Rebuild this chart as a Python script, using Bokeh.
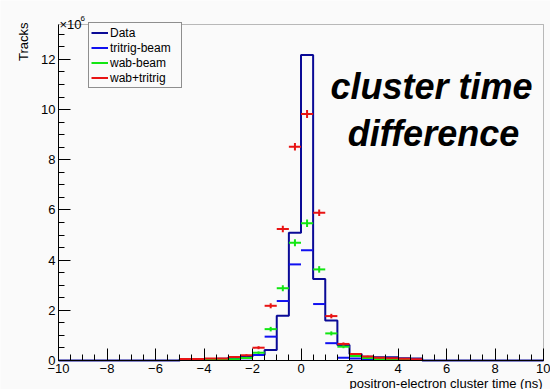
import numpy as np
from bokeh.plotting import figure
from bokeh.models import (Range1d, SingleIntervalTicker, Label, Legend, LegendItem,
                          BoxAnnotation)
from bokeh.embed import file_html
from bokeh.resources import INLINE

# Histogram binning: 0.5 ns bins, filled region from -5 to +5 ns
bin_width = 0.5
bin_lo = np.arange(-5.0, 5.0, bin_width)

# Tracks per bin (in units of 1e6)
data_counts = [0.05, 0.06, 0.06, 0.07, 0.12, 0.15, 0.22, 0.42, 1.78, 5.09,
               12.17, 3.25, 1.59, 0.62, 0.26, 0.15, 0.13, 0.13, 0.09, 0.08]
tritrig_beam = [0.04, 0.04, 0.05, 0.05, 0.07, 0.09, 0.22, 0.95, 2.37, 3.83,
                4.39, 2.25, 0.69, 0.11, 0.08, 0.06, 0.05, 0.05, 0.04, 0.03]
wab_beam = [0.02, 0.02, 0.03, 0.03, 0.05, 0.10, 0.31, 1.25, 2.88, 4.69,
            5.47, 3.63, 1.08, 0.55, 0.18, 0.10, 0.06, 0.04, 0.03, 0.02]
wab_beam_err = [0.01, 0.01, 0.01, 0.01, 0.02, 0.03, 0.05, 0.09, 0.12, 0.14,
                0.15, 0.13, 0.08, 0.06, 0.04, 0.03, 0.02, 0.02, 0.01, 0.01]
wab_tritrig = [0.06, 0.06, 0.08, 0.08, 0.14, 0.21, 0.51, 2.18, 5.24, 8.52,
               9.82, 5.89, 1.77, 0.66, 0.26, 0.16, 0.11, 0.09, 0.07, 0.05]
wab_tritrig_err = [0.02, 0.02, 0.02, 0.02, 0.03, 0.04, 0.06, 0.10, 0.13, 0.15,
                   0.16, 0.13, 0.09, 0.06, 0.04, 0.03, 0.03, 0.02, 0.02, 0.02]

x_ticks = [-10, -8, -6, -4, -2, 0, 2, 4, 6, 8, 10]
x_tick_labels = ["\u221210", "\u22128", "\u22126", "\u22124", "\u22122", "0", "2", "4", "6", "8", "10"]

X_MIN, X_MAX = -10.0, 10.0
Y_MAX = 13.39

W, H = 550, 389
# pad (ROOT-style) around the histogram frame, in pixels
PAD_L, PAD_R, PAD_T, PAD_B = 58, 7, 24, 29
BG = "#fafafa"
FONT = "Liberation Sans"

NAVY = "#0a0a96"
BLUE = "#1010f0"
GREEN = "#12e612"
RED = "#e81414"

frame_w = W - PAD_L - PAD_R
frame_h = H - PAD_T - PAD_B

def dx(px):
    return X_MIN + (px - PAD_L) * (X_MAX - X_MIN) / frame_w

def dy(py):
    return (H - PAD_B - py) * Y_MAX / frame_h

# The drawing area spans the whole canvas; the axes sit at the histogram edges
p = figure(width=W, height=H, output_backend="svg", toolbar_location=None,
           x_range=Range1d(dx(0), dx(W)), y_range=Range1d(dy(H), dy(0)),
           min_border=0, min_border_left=0, min_border_right=0,
           min_border_top=0, min_border_bottom=0)
p.background_fill_color = BG
p.border_fill_color = BG
p.outline_line_color = None
p.grid.visible = False

p.xaxis[0].fixed_location = 0
p.xaxis[0].bounds = (X_MIN, X_MAX)
p.yaxis[0].fixed_location = X_MIN
p.yaxis[0].bounds = (0, Y_MAX)

for ax in (p.xaxis[0], p.yaxis[0]):
    ax.ticker = SingleIntervalTicker(interval=2, num_minor_ticks=4)
    ax.axis_line_color = "black"
    ax.major_tick_line_color = "black"
    ax.minor_tick_line_color = "black"
    ax.major_tick_in = 12
    ax.major_tick_out = 0
    ax.minor_tick_in = 6
    ax.minor_tick_out = 0
    ax.major_label_text_font = FONT
    ax.major_label_text_font_size = "13px"
    ax.major_label_text_color = "black"
    ax.major_label_standoff = 3
p.xaxis[0].major_label_overrides = {t: s for t, s in zip(x_ticks, x_tick_labels)}

# Frame box around the histogram area
p.add_layout(BoxAnnotation(left=X_MIN, right=X_MAX, bottom=0, top=Y_MAX,
                           fill_alpha=0, line_color="#222222", line_width=1,
                           level="underlay"))

# Data histogram drawn as a closed step outline over the full axis range
lo_all = np.arange(X_MIN, X_MAX, bin_width)
counts_all = np.zeros(len(lo_all))
start = int(round((bin_lo[0] - X_MIN) / bin_width))
counts_all[start:start + len(data_counts)] = data_counts
hx, hy = [X_MIN], [0.0]
for lo, c in zip(lo_all, counts_all):
    hx += [lo, lo + bin_width]
    hy += [c, c]
hx.append(X_MAX)
hy.append(0.0)
r_data = p.line(hx, hy, line_color=NAVY, line_width=2)

bin_hi = bin_lo + bin_width
bin_mid = bin_lo + bin_width / 2

r_tri = p.segment(x0=bin_lo, y0=tritrig_beam, x1=bin_hi, y1=tritrig_beam,
                  line_color=BLUE, line_width=2)

def error_series(vals, errs, color):
    vals = np.array(vals)
    errs = np.array(errs)
    r = p.segment(x0=bin_lo, y0=vals, x1=bin_hi, y1=vals, line_color=color, line_width=2)
    p.segment(x0=bin_mid, y0=vals - errs, x1=bin_mid, y1=vals + errs,
              line_color=color, line_width=2)
    return r

r_wab = error_series(wab_beam, wab_beam_err, GREEN)
r_sum = error_series(wab_tritrig, wab_tritrig_err, RED)

legend = Legend(items=[
    LegendItem(label="Data", renderers=[r_data]),
    LegendItem(label="tritrig-beam", renderers=[r_tri]),
    LegendItem(label="wab-beam", renderers=[r_wab]),
    LegendItem(label="wab+tritrig", renderers=[r_sum]),
], location=(88, H - 88))
legend.padding = 2
legend.spacing = 0
legend.margin = 0
legend.glyph_width = 17
legend.glyph_height = 15
legend.label_height = 15
legend.label_width = 69
legend.label_standoff = 2
legend.label_text_font = FONT
legend.label_text_font_size = "12px"
legend.label_text_color = "black"
legend.border_line_color = "#222222"
legend.border_line_width = 1
legend.background_fill_color = BG
legend.background_fill_alpha = 1.0
p.add_layout(legend)

# Axis titles and exponent, placed ROOT-style
p.add_layout(Label(x=dx(22.5), y=dy(22), text="Tracks", angle=np.pi / 2,
                   text_align="right", text_baseline="middle",
                   text_font=FONT, text_font_size="13px", text_color="black"))
p.add_layout(Label(x=dx(59), y=dy(24), text="\u00d710",
                   text_align="left", text_baseline="alphabetic",
                   text_font=FONT, text_font_size="13px", text_color="black"))
p.add_layout(Label(x=dx(80), y=dy(17.5), text="6",
                   text_align="left", text_baseline="alphabetic",
                   text_font=FONT, text_font_size="8px", text_color="black"))
p.add_layout(Label(x=dx(542), y=dy(375), text="positron-electron cluster time (ns)",
                   text_align="right", text_baseline="top",
                   text_font=FONT, text_font_size="13px", text_color="black"))

# Panel caption
for txt, cx, by in (("cluster time", 431, 86), ("difference", 433, 133)):
    p.add_layout(Label(x=dx(cx), y=dy(by), text=txt,
                       text_align="center", text_baseline="alphabetic",
                       text_font=FONT, text_font_size="36px",
                       text_font_style="bold italic", text_color="black"))

open("out.html", "w").write(file_html(p, INLINE))
